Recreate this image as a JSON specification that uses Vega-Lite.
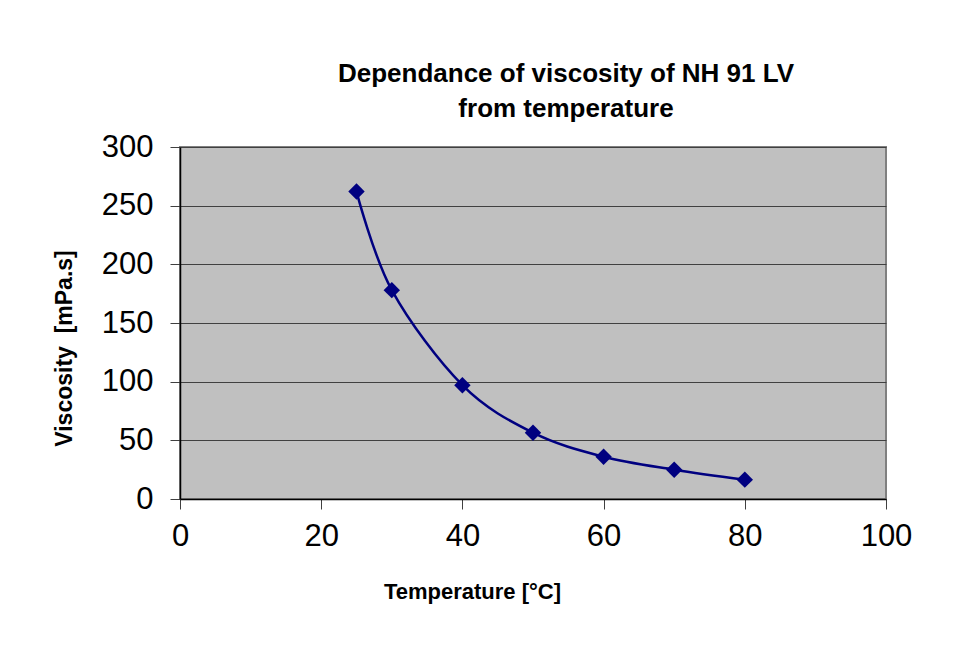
{
  "$schema": "https://vega.github.io/schema/vega-lite/v6.json",
  "autosize": "none",
  "width": 706,
  "height": 352,
  "padding": {"left": 180, "top": 147, "right": 76, "bottom": 148},
  "background": "#ffffff",
  "config": {
    "font": "Liberation Sans, Arial, sans-serif",
    "view": {"fill": "#C0C0C0", "stroke": "#808080", "strokeWidth": 2}
  },
  "title": {
    "text": ["Dependance of viscosity of NH 91 LV", "from temperature"],
    "anchor": "middle",
    "frame": "group",
    "dx": 33,
    "offset": 9,
    "fontSize": 26,
    "fontWeight": "bold",
    "lineHeight": 35,
    "color": "#000000",
    "font": "Liberation Sans, Arial, sans-serif"
  },
  "data": {
    "values": [
      {"temperature": 25, "viscosity": 262},
      {"temperature": 30, "viscosity": 178},
      {"temperature": 40, "viscosity": 97},
      {"temperature": 50, "viscosity": 56.5},
      {"temperature": 60, "viscosity": 36},
      {"temperature": 70, "viscosity": 25},
      {"temperature": 80, "viscosity": 16.5}
    ]
  },
  "encoding": {
    "x": {
      "field": "temperature",
      "type": "quantitative",
      "scale": {"domain": [0, 100], "nice": false, "zero": false},
      "axis": {
        "title": "Temperature [°C]",
        "values": [0, 20, 40, 60, 80, 100],
        "grid": false,
        "domainColor": "#000000",
        "domainWidth": 1.5,
        "tickColor": "#404040",
        "tickSize": 10,
        "tickWidth": 1,
        "labelFontSize": 31,
        "labelColor": "#000000",
        "labelPadding": 12,
        "labelFlush": false,
        "labelFont": "Liberation Sans, Arial, sans-serif",
        "titleFontSize": 22,
        "titleFontWeight": "bold",
        "titleColor": "#000000",
        "titleX": 292,
        "titleY": 99,
        "titleAlign": "center",
        "titleBaseline": "alphabetic",
        "titleFont": "Liberation Sans, Arial, sans-serif"
      }
    },
    "y": {
      "field": "viscosity",
      "type": "quantitative",
      "scale": {"domain": [0, 300], "nice": false},
      "axis": {
        "title": "Viscosity \u00a0[mPa.s]",
        "values": [0, 50, 100, 150, 200, 250, 300],
        "grid": true,
        "gridColor": "#404040",
        "gridWidth": 1,
        "gridOpacity": 1,
        "domainColor": "#000000",
        "domainWidth": 1.5,
        "tickColor": "#404040",
        "tickSize": 10,
        "tickWidth": 1,
        "labelFontSize": 31,
        "labelColor": "#000000",
        "labelPadding": 17,
        "labelFlush": false,
        "labelFont": "Liberation Sans, Arial, sans-serif",
        "titleFontSize": 23,
        "titleFontWeight": "bold",
        "titleColor": "#000000",
        "titleAngle": -90,
        "titleX": -109,
        "titleY": 201,
        "titleAlign": "center",
        "titleBaseline": "alphabetic",
        "titleFont": "Liberation Sans, Arial, sans-serif"
      }
    }
  },
  "layer": [
    {
      "mark": {"type": "line", "interpolate": "cardinal", "color": "#000080", "strokeWidth": 2.5}
    },
    {
      "mark": {"type": "point", "shape": "diamond", "filled": true, "size": 270, "color": "#000080", "opacity": 1}
    }
  ]
}
